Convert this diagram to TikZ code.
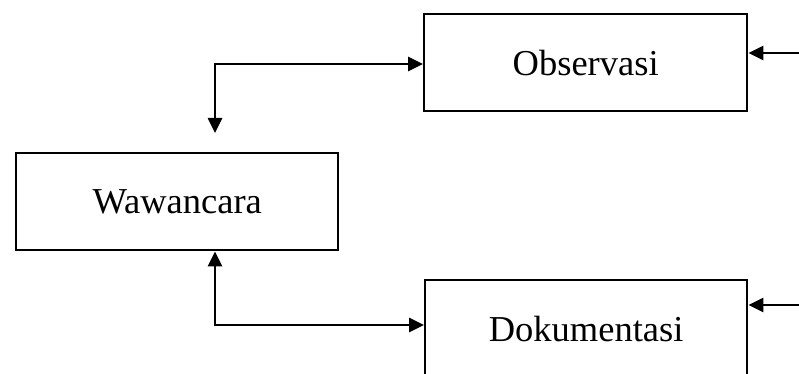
\documentclass[tikz,border=0pt]{standalone}
\usepackage{fontspec}
\setmainfont{Liberation Serif}
\usetikzlibrary{arrows.meta}
\begin{document}
\begin{tikzpicture}[x=1pt,y=-1pt,
  box/.style={draw,line width=2.4pt,anchor=north west,inner sep=0pt,
    font=\fontsize{36.5}{40}\selectfont},
  link/.style={line width=2.6pt,-{Triangle[length=15pt,width=14pt]}},
  dlink/.style={line width=2.6pt,{Triangle[length=15pt,width=14pt]}-{Triangle[length=15pt,width=14pt]}}]
  \useasboundingbox (0,0) rectangle (799,374);
  \clip (0,0) rectangle (799,374);
  % the three boxes
  \node[box,minimum width=323pt,minimum height=97pt] (obs) at (423,13) {Observasi};
  \node[box,minimum width=322pt,minimum height=97pt] (waw) at (15,152) {Wawancara};
  \node[box,minimum width=322pt,minimum height=97pt] (dok) at (424,279) {Dokumentasi};
  % free ends of the connectors
  \coordinate (wtop) at (215,133);
  \coordinate (obsin) at (799,53);
  \coordinate (dokin) at (799,305);
  % Wawancara <-> Observasi
  \draw[dlink] (wtop) |- (obs.west |- 0,64);
  % Wawancara <-> Dokumentasi
  \draw[dlink] (waw.south -| 215,0) |- (dok.west |- 0,325);
  % incoming arrows on the right
  \draw[link] (obsin) -- (obs.east |- obsin);
  \draw[link] (dokin) -- (dok.east |- dokin);
\end{tikzpicture}
\end{document}
